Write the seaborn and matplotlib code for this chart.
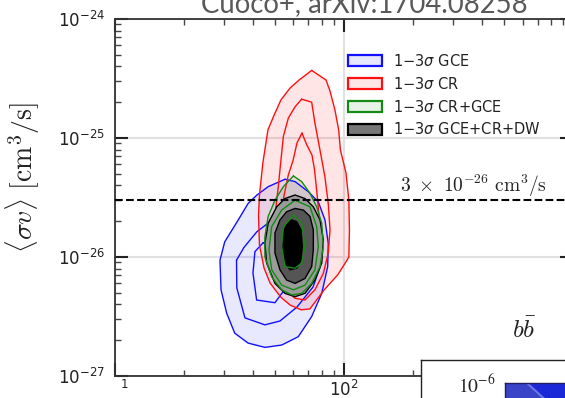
import matplotlib
matplotlib.use("Agg")
import matplotlib.pyplot as plt
import seaborn as sns
from matplotlib.patches import Patch

# ---------------- data (mass [GeV], <sigma v> [cm^3/s]) ----------------
gce_3s_m = [55.3, 61.2, 69.9, 77.3, 82.6, 85.4, 84.9, 80.0, 72.3, 63.2, 53.5, 45.2, 38.2, 33.4, 30.8, 29.1, 28.8, 30.2, 34.6, 38.2, 41.6, 46.7]
gce_3s_sv = [4.5e-26, 4.3e-26, 3.54e-26, 2.9e-26, 2.05e-26, 1.3e-26, 8.3e-27, 4.95e-27, 3.16e-27, 2.14e-27, 1.82e-27, 1.74e-27, 1.89e-27, 2.29e-27, 3.37e-27, 5.3e-27, 9.4e-27, 1.34e-26, 2.05e-26, 2.82e-26, 3.3e-26, 3.9e-26]
gce_2s_m = [34.0, 34.1, 37.0, 45.2, 52.6, 62.4, 73.3, 78.6, 78.6, 72.5, 61.2, 50.0, 41.7, 36.6]
gce_2s_sv = [9.4e-27, 5.5e-27, 3.08e-27, 2.69e-27, 2.9e-27, 3.8e-27, 5.6e-27, 8.25e-27, 1.26e-26, 1.86e-26, 2.39e-26, 2.13e-26, 1.63e-26, 1.2e-26]
gce_1s_m = [44.3, 40.9, 40.1, 41.6, 50.0, 54.2, 59.4, 61.2, 58.2, 51.7]
gce_1s_sv = [1.31e-26, 1.11e-26, 7.35e-27, 4.35e-27, 4.13e-27, 5.1e-27, 6.7e-27, 9.4e-27, 1.26e-26, 1.45e-26]

cr_3s_m = [72.3, 83.5, 86.9, 91.3, 94.8, 96.5, 102, 105, 105.6, 105, 102, 94, 82, 71, 65, 58.2, 53, 47.6, 44.8, 42.8, 42.4, 42.8, 44.3, 46.6, 49.6, 53.1, 58.2, 63.7]
cr_3s_sv = [3.7e-25, 3.07e-25, 2.48e-25, 1.72e-25, 1.17e-25, 7.9e-26, 5.1e-26, 3.0e-26, 1.69e-26, 1.0e-26, 9.1e-27, 7.1e-27, 5.3e-27, 3.66e-27, 3.6e-27, 3.95e-27, 4.6e-27, 6.05e-27, 8.1e-27, 1.26e-26, 2.25e-26, 3.3e-26, 6.2e-26, 1.17e-25, 1.56e-25, 2.09e-25, 2.63e-25, 3.07e-25]
cr_2s_m = [65.4, 72.3, 74.7, 78.6, 82.6, 85.4, 86.9, 85.4, 81.3, 74.7, 67.6, 61.2, 55.3, 51.7, 50.0, 50.0, 51.7, 53.1, 54.4, 57.2, 61.2]
cr_2s_sv = [2.12e-25, 2.0e-25, 1.33e-25, 7.9e-26, 4.7e-26, 2.8e-26, 1.69e-26, 1.08e-26, 7.3e-27, 5.3e-27, 4.35e-27, 4.5e-27, 5.3e-27, 7.3e-27, 1.23e-26, 2.19e-26, 3.9e-26, 6.5e-26, 1.03e-25, 1.47e-25, 1.83e-25]
cr_1s_m = [65.6, 68.9, 72.5, 74.4, 76.2, 77.8, 78.6, 77.0, 72.5, 66.3, 60.0, 55.3, 52.6, 52.1, 53.1, 54.8, 57.2, 60.0, 62.4]
cr_1s_sv = [1.1e-25, 8.7e-26, 7.2e-26, 5.4e-26, 3.46e-26, 2.25e-26, 1.39e-26, 9.4e-27, 6.8e-27, 5.6e-27, 5.5e-27, 6.4e-27, 9.1e-27, 1.39e-26, 2.25e-26, 3.3e-26, 4.9e-26, 6.5e-26, 9.1e-26]

crgce_3s_m = [60.2, 65.4, 71.1, 76.0, 80.0, 81.3, 78.6, 72.3, 65.4, 59.2, 53.5, 48.4, 45.2, 45.2, 46.7, 50.0, 54.4]
crgce_3s_sv = [4.8e-26, 4.3e-26, 3.43e-26, 2.64e-26, 1.92e-26, 1.23e-26, 8.3e-27, 6.0e-27, 4.95e-27, 4.8e-27, 5.3e-27, 6.8e-27, 1.0e-26, 1.48e-26, 2.19e-26, 3.0e-26, 3.9e-26]
crgce_2s_m = [61.2, 71.1, 76.0, 77.3, 74.7, 67.6, 60.2, 53.5, 48.4, 47.1, 48.4, 53.5]
crgce_2s_sv = [3.0e-26, 2.64e-26, 1.8e-26, 1.23e-26, 7.8e-27, 5.8e-27, 5.3e-27, 5.8e-27, 7.8e-27, 1.15e-26, 1.8e-26, 2.48e-26]
crgce_1s_m = [60.2, 65.4, 67.6, 65.4, 61.2, 55.3, 53.5, 54.4]
crgce_1s_sv = [2.25e-26, 1.92e-26, 1.23e-26, 8.9e-27, 8.05e-27, 8.3e-27, 1.23e-26, 1.8e-26]

all_3s_m = [61.2, 67.6, 73.5, 78.6, 81.3, 80.0, 74.7, 67.6, 61.2, 55.3, 50.0, 46.0, 45.2, 46.7, 50.9, 55.3]
all_3s_sv = [3.32e-26, 3.1e-26, 2.64e-26, 2.05e-26, 1.39e-26, 8.9e-27, 6.4e-27, 4.95e-27, 4.64e-27, 4.95e-27, 6.0e-27, 8.9e-27, 1.3e-26, 1.92e-26, 2.64e-26, 3.1e-26]
all_2s_m = [61.2, 66.5, 71.1, 73.5, 73.5, 72.3, 67.6, 61.2, 56.2, 52.6, 50.0, 50.0, 52.6, 56.2]
all_2s_sv = [2.56e-26, 2.48e-26, 2.19e-26, 1.69e-26, 1.15e-26, 8.3e-27, 6.6e-27, 6.0e-27, 6.4e-27, 7.8e-27, 1.08e-26, 1.59e-26, 2.05e-26, 2.4e-26]
all_1s_m = [59.2, 62.2, 65.0, 65.8, 65.0, 62.2, 58.2, 55.3, 53.8, 54.9, 56.8]
all_1s_sv = [2.05e-26, 1.98e-26, 1.69e-26, 1.23e-26, 9.4e-27, 8.05e-27, 7.8e-27, 8.9e-27, 1.23e-26, 1.69e-26, 1.92e-26]

thermal_sv = 3e-26
x_ticks = [10, 100]
x_tick_labels = [r"$\quad\,{}^{1}$", r"$10^{2}$"]
y_ticks = [1e-27, 1e-26, 1e-25, 1e-24]
y_tick_labels = [r"$10^{-27}$", r"$10^{-26}$", r"$10^{-25}$", r"$10^{-24}$"]
legend_labels = [r"$1{-}3\sigma$ GCE", r"$1{-}3\sigma$ CR", r"$1{-}3\sigma$ CR+GCE", r"$1{-}3\sigma$ GCE+CR+DW"]
inset_dark_x = [0.32, 1.0, 1.0]
inset_dark_y = [1.0, 1.0, 0.24]

# ---------------- style ----------------
sns.set_theme(style="ticks")
plt.rcParams["font.family"] = ["DejaVu Sans"]
plt.rcParams["mathtext.fontset"] = "dejavusans"

fig = plt.figure(figsize=(5.65, 3.98), dpi=100)
ax = fig.add_axes([114.6 / 565, 22 / 398, 458.8 / 565, 357 / 398])
ax.set_xscale("log")
ax.set_yscale("log")
ax.set_xlim(10, 1000)
ax.set_ylim(1e-27, 1e-24)


def closed(m, s):
    return list(m) + [m[0]], list(s) + [s[0]]


def outline(m, s, color, lw=1.0, z=2):
    xm, ys = closed(m, s)
    sns.lineplot(x=xm, y=ys, sort=False, estimator=None, color=color,
                 linewidth=lw, ax=ax, zorder=z)


# light fills of the outer contours
ax.fill(gce_3s_m, gce_3s_sv, facecolor="blue", alpha=0.09, edgecolor="none", zorder=1)
ax.fill(cr_3s_m, cr_3s_sv, facecolor="red", alpha=0.10, edgecolor="none", zorder=1.1)
ax.fill(crgce_3s_m, crgce_3s_sv, facecolor="green", alpha=0.10, edgecolor="none", zorder=1.2)

for m, s in [(gce_3s_m, gce_3s_sv), (gce_2s_m, gce_2s_sv), (gce_1s_m, gce_1s_sv)]:
    outline(m, s, "#1010ff", 1.0, 2)
for m, s in [(cr_3s_m, cr_3s_sv), (cr_2s_m, cr_2s_sv), (cr_1s_m, cr_1s_sv)]:
    outline(m, s, "#ff1010", 1.0, 2.1)

ax.fill(all_3s_m, all_3s_sv, facecolor="#9b9b9b", edgecolor="black", lw=1.0, zorder=3)
ax.fill(all_2s_m, all_2s_sv, facecolor="#555555", edgecolor="black", lw=1.0, zorder=3.1)
ax.fill(all_1s_m, all_1s_sv, facecolor="black", edgecolor="black", lw=1.0, zorder=3.2)

for m, s in [(crgce_3s_m, crgce_3s_sv), (crgce_2s_m, crgce_2s_sv), (crgce_1s_m, crgce_1s_sv)]:
    outline(m, s, "#138a13", 1.0, 4)

ax.axhline(thermal_sv, color="black", lw=1.5, ls="--", zorder=5)
ax.text(0.622, 0.516, r"$3\ \times\ 10^{-26}\ \mathrm{cm}^3/\mathrm{s}$", transform=ax.transAxes,
        ha="left", va="baseline", fontsize=14, math_fontfamily="cm", color="#222222", zorder=6)
ax.text(0.892, 0.129, r"$b\bar{b}$", transform=ax.transAxes, ha="center", va="center",
        fontsize=18, math_fontfamily="cm", color="#222222")

# axes cosmetics
ax.grid(True, which="major", color="#e0e0e0", lw=1.5, zorder=0)
ax.set_axisbelow(True)
for sp in ax.spines.values():
    sp.set_linewidth(1.3)
    sp.set_color("#333333")
ax.tick_params(which="major", direction="in", length=9.5, width=1.5, top=True, right=True,
               colors="#222222", labelsize=12)
ax.tick_params(which="minor", direction="in", length=4.5, width=1.0, top=True, right=True,
               colors="#444444")
ax.tick_params(axis="y", which="major", pad=7)
ax.tick_params(axis="x", which="major", pad=3)
ax.set_xticks(x_ticks)
ax.set_xticklabels(x_tick_labels)
ax.set_yticks(y_ticks)
ax.set_yticklabels(y_tick_labels)
ax.set_xlabel("")
ax.set_ylabel(r"$\langle\sigma v\rangle\ [\mathrm{cm}^3/\mathrm{s}]$", fontsize=20,
              math_fontfamily="cm", color="#222222")
ax.yaxis.set_label_coords(-0.158, 0.555)

handles = [
    Patch(facecolor="#e6e6ff", edgecolor="#1010ff", lw=1.6),
    Patch(facecolor="#ffe6e6", edgecolor="#ff1010", lw=1.6),
    Patch(facecolor="#e6f3e6", edgecolor="#138a13", lw=1.6),
    Patch(facecolor="#777777", edgecolor="black", lw=1.6),
]
leg = ax.legend(handles, legend_labels, loc="upper left", bbox_to_anchor=(0.5087, 0.905),
                frameon=False, fontsize=10.5, handlelength=2.33, handleheight=0.79,
                handletextpad=0.75, labelspacing=0.47, borderpad=0, borderaxespad=0)
for t in leg.get_texts():
    t.set_color("#222222")

# title (partly cropped at the top)
fig.text(0.644, 0.9706, "Cuoco+, arXiv:1704.08258", ha="center", va="baseline",
         fontsize=19.8, family="Lato", color="#595959")

# inset of another figure, partly visible at bottom right
frame = fig.add_axes([421 / 565, -0.2, 0.5, 0.2955])
frame.set_facecolor("white")
frame.set_xticks([])
frame.set_yticks([])
for sp in frame.spines.values():
    sp.set_linewidth(1.0)
    sp.set_color("#222222")

inner = fig.add_axes([505 / 565, -0.1, 0.12, 0.1377])
inner.set_facecolor("#3a44c8")
inner.set_xlim(0, 1)
inner.set_ylim(0, 1)
inner.fill(inset_dark_x, inset_dark_y, facecolor="#1a28d8", edgecolor="#6a78e8", lw=1.5)
inner.set_xticks([])
inner.set_yticks([1.0])
inner.set_yticklabels([r"$10^{-6}$"])
inner.tick_params(axis="y", length=0, pad=7, labelsize=14)
for t in inner.get_yticklabels():
    t.set_math_fontfamily("stix")
    t.set_color("#222222")
for sp in inner.spines.values():
    sp.set_linewidth(1.0)
    sp.set_color("#202060")

fig.savefig("out.png", dpi=100)
